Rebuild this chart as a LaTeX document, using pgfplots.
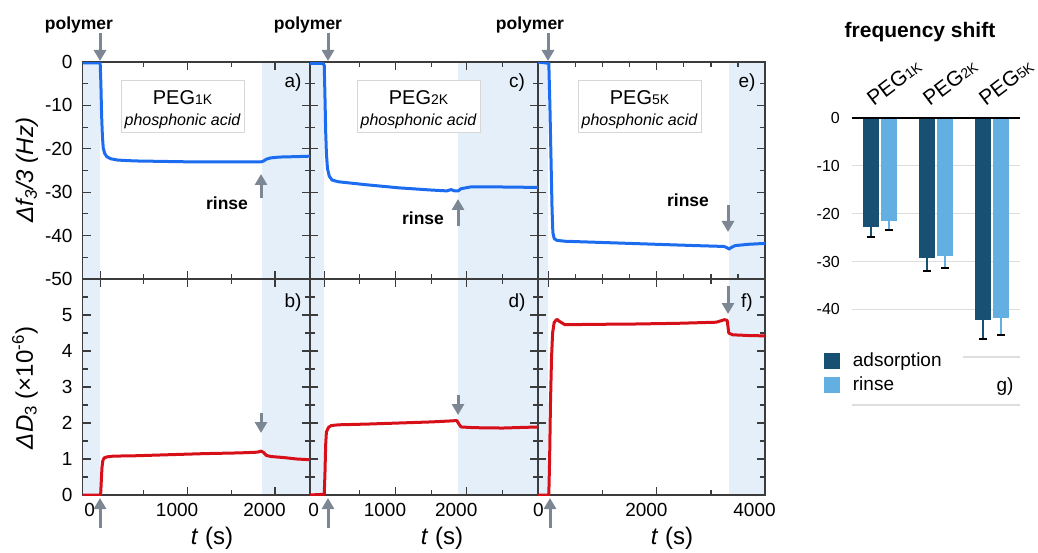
\documentclass[border=0pt]{standalone}
\usepackage{pgfplots}
\pgfplotsset{compat=1.18}
\usepackage{fontspec}
\setmainfont{Liberation Sans}
\usetikzlibrary{arrows.meta}

\definecolor{shadeblue}{RGB}{228,239,250}
\definecolor{fline}{RGB}{28,108,240}
\definecolor{dline}{RGB}{215,15,25}
\definecolor{arrowgray}{RGB}{125,135,148}
\definecolor{axisgray}{RGB}{60,60,60}
\definecolor{boxgray}{RGB}{215,215,215}
\definecolor{gridgray}{RGB}{222,222,222}
\definecolor{adsblue}{RGB}{24,80,115}
\definecolor{rinseblue}{RGB}{100,175,225}

\newcommand{\fs}[1]{\fontsize{#1}{#1}\selectfont}
\newcommand{\peg}[2]{PEG{\fs{#1}#2}}

\pgfplotsset{
  qcm/.style={
    scale only axis, set layers,
    xmin=-200,
    axis line style={axisgray, line width=1.2pt},
    every tick/.style={axisgray, line width=1.1pt},
    tick align=inside,
    major tick length=8pt, minor tick length=5pt,
    tick label style={font=\fs{19}},
    xticklabel style={anchor=north, inner sep=0pt, yshift=-8pt, xshift=-10.5pt},
    yticklabel style={anchor=east, inner sep=0pt, xshift=-10pt},
  },
  upper/.style={height=217pt, ymin=-50, ymax=0, ytick={-50,-40,...,0},
    minor ytick={-45,-35,...,-5}, xticklabels={,,,,}},
  lower/.style={height=216pt, ymin=0, ymax=6, ytick={0,1,...,5},
    minor ytick={0.5,1.5,...,5.5}},
  nolabel y/.style={yticklabels={,,,,,,}},
  shade/.style={fill=shadeblue, draw=none, on layer=axis background, forget plot},
  fcurve/.style={fline, line width=3pt, line join=round, mark=none},
  dcurve/.style={dline, line width=3pt, line join=round, mark=none},
}

\begin{document}
\begin{tikzpicture}

% ---------- PEG 1K ----------
\begin{axis}[qcm, upper, at={(82.7pt,-279pt)}, anchor=south west, width=227.3pt,
  xmax=2400, xtick={0,1000,2000}, minor xtick={500,1500},
  yticklabels={-50,-40,-30,-20,-10,0}]
\addplot[shade] coordinates {(-200,-50) (0,-50) (0,0) (-200,0)} --cycle;
\addplot[shade] coordinates {(1853,-50) (2400,-50) (2400,0) (1853,0)} --cycle;
\addplot[fcurve] coordinates {
(-200,-0.2) (0,-0.2) (8,-5) (16,-12) (25,-17) (35,-19.8) (50,-21.0) (75,-21.8)
(120,-22.3) (200,-22.6) (400,-22.8) (700,-22.9) (1000,-23.0) (1400,-23.0)
(1700,-23.0) (1840,-23.0) (1870,-22.8) (1900,-22.4) (1950,-22.1) (2050,-21.9)
(2250,-21.8) (2400,-21.7)};
\end{axis}

\begin{axis}[qcm, lower, at={(82.7pt,-495pt)}, anchor=south west, width=227.3pt,
  xmax=2400, xtick={0,1000,2000}, minor xtick={500,1500},
  xticklabels={0,1000,2000}, yticklabels={0,1,2,3,4,5}]
\addplot[shade] coordinates {(-200,0) (0,0) (0,6) (-200,6)} --cycle;
\addplot[shade] coordinates {(1853,0) (2400,0) (2400,6) (1853,6)} --cycle;
\addplot[dcurve] coordinates {
(-200,0) (5,0) (12,0.35) (20,0.75) (30,0.95) (45,1.03) (80,1.06) (150,1.08)
(400,1.09) (800,1.12) (1200,1.15) (1600,1.17) (1800,1.19) (1840,1.22)
(1870,1.18) (1900,1.10) (1950,1.07) (2100,1.04) (2250,1.00) (2400,0.98)};
\end{axis}

% ---------- PEG 2K ----------
\begin{axis}[qcm, upper, nolabel y, at={(310pt,-279pt)}, anchor=south west, width=228pt,
  xmax=3000, xtick={0,1000,2000}, minor xtick={500,1500,2500}]
\addplot[shade] coordinates {(-200,-50) (0,-50) (0,0) (-200,0)} --cycle;
\addplot[shade] coordinates {(1877,-50) (3000,-50) (3000,0) (1877,0)} --cycle;
\addplot[fcurve] coordinates {
(-200,-0.3) (-20,-0.3) (0,-0.8) (10,-8) (20,-16) (30,-21) (45,-24.5) (70,-26.3)
(110,-27.2) (200,-27.6) (600,-28.3) (1050,-29.0) (1500,-29.5) (1720,-29.7)
(1780,-29.4) (1830,-29.7) (1880,-29.7) (1920,-29.2) (2050,-28.8) (2500,-28.8)
(3000,-28.9)};
\end{axis}

\begin{axis}[qcm, lower, nolabel y, at={(310pt,-495pt)}, anchor=south west, width=228pt,
  xmax=3000, xtick={0,1000,2000}, minor xtick={500,1500,2500},
  xticklabels={0,1000,2000}]
\addplot[shade] coordinates {(-200,0) (0,0) (0,6) (-200,6)} --cycle;
\addplot[shade] coordinates {(1877,0) (3000,0) (3000,6) (1877,6)} --cycle;
\addplot[dcurve] coordinates {
(-200,0) (0,0.02) (10,0.6) (20,1.4) (30,1.75) (60,1.88) (100,1.93) (200,1.95)
(600,1.97) (1050,2.00) (1500,2.03) (1800,2.06) (1860,2.07) (1890,1.97)
(1920,1.89) (2100,1.87) (2500,1.86) (3000,1.89)};
\end{axis}

% ---------- PEG 5K ----------
\begin{axis}[qcm, upper, nolabel y, at={(538pt,-279pt)}, anchor=south west, width=227pt,
  xmax=4000, xtick={0,2000,4000}, minor xtick={500,1000,1500,2500,3000,3500}]
\addplot[shade] coordinates {(-200,-50) (-20,-50) (-20,0) (-200,0)} --cycle;
\addplot[shade] coordinates {(3330,-50) (4000,-50) (4000,0) (3330,0)} --cycle;
\addplot[fcurve] coordinates {
(-200,0) (0,-0.3) (20,-10) (40,-22) (60,-34) (75,-39.3) (100,-40.7) (150,-41.1)
(300,-41.3) (1500,-41.8) (2700,-42.3) (3240,-42.5) (3300,-42.8) (3335,-43.1)
(3380,-42.7) (3450,-42.3) (3700,-42.0) (4000,-41.8)};
\end{axis}

\begin{axis}[qcm, lower, nolabel y, at={(538pt,-495pt)}, anchor=south west, width=227pt,
  xmax=4000, xtick={0,2000,4000}, minor xtick={1000,3000},
  xticklabels={0,2000,4000}]
\addplot[shade] coordinates {(-200,0) (-20,0) (-20,6) (-200,6)} --cycle;
\addplot[shade] coordinates {(3330,0) (4000,0) (4000,6) (3330,6)} --cycle;
\addplot[dcurve] coordinates {
(-200,0) (0,0) (15,1.0) (30,2.5) (50,3.8) (70,4.5) (100,4.80) (150,4.88)
(200,4.82) (300,4.73) (800,4.74) (1600,4.75) (2400,4.77) (3100,4.80)
(3250,4.87) (3300,4.85) (3330,4.50) (3400,4.45) (3700,4.43) (4000,4.42)};
\end{axis}

% ---------- frequency shift bars ----------
\begin{axis}[
  at={(852pt,-405pt)}, anchor=south west,
  scale only axis, width=168pt, height=287pt,
  ybar=3pt, bar width=15pt,
  xmin=-0.5, xmax=2.5, ymin=-60, ymax=0,
  axis line style={draw=none},
  major tick length=0pt,
  xtick={0,1,2},
  xticklabels={\peg{14}{1K},\peg{14}{2K},\peg{14}{5K}},
  xticklabel pos=upper,
  xticklabel style={font=\fs{21}, inner sep=0pt, xshift=-6pt, yshift=11pt,
    rotate=37, anchor=south west},
  ytick={-60,-40,-30,-20,-10,0},
  yticklabels={,-40,-30,-20,-10,0},
  yticklabel style={font=\fs{16}, anchor=east, inner sep=0pt, xshift=-12pt},
  ymajorgrids, grid style={gridgray, line width=1.3pt},
  error bars/y dir=minus, error bars/y explicit,
  error bars/error bar style={line width=2pt},
  error bars/error mark options={rotate=90, mark size=4pt, line width=2pt},
  legend style={draw=none, fill=none, at={(axis description cs:-0.165,0.19)},
    anchor=north west, font=\fs{19}, inner sep=0pt, row sep=5pt,
    /tikz/every odd column/.append style={column sep=11pt}},
  legend cell align=left,
  every axis plot post/.append style={legend image code/.code={
    \fill[##1] (0pt,-7.5pt) rectangle (15pt,7.5pt);}},
]
\addplot[fill=adsblue, draw=adsblue] coordinates {
(0,-22.6) -= (0,2.2) (1,-29.2) -= (0,2.8) (2,-42.1) -= (0,4.0)};
\addlegendentry{adsorption}
\addplot[fill=rinseblue, draw=rinseblue] coordinates {
(0,-21.3) -= (0,2.2) (1,-28.75) -= (0,2.55) (2,-41.6) -= (0,3.8)};
\addlegendentry{rinse}
\draw[black, line width=1.3pt] (axis cs:-0.5,0) -- (axis cs:2.5,0);
\end{axis}

% ---------- annotations (pixel coordinates, y downwards) ----------
\begin{scope}[x=1pt, y=-1pt]
\draw[gridgray, line width=1.3pt] (963,357) -- (1020,357);
\tikzset{garrow/.style={arrowgray, line width=3pt, -{Triangle[width=12pt,length=11pt]}}}
\foreach \xa in {100,328,548} {\draw[garrow] (\xa,33) -- (\xa,61);}
\foreach \xa in {100,328,550} {\draw[garrow] (\xa,528) -- (\xa,498);}
\draw[garrow] (261,198) -- (261,174);
\draw[garrow] (458,226) -- (458,199);
\draw[garrow] (728,205) -- (728,232);
\draw[garrow] (261,413) -- (261,433);
\draw[garrow] (458,395) -- (458,415);
\draw[garrow] (728,286) -- (728,314);

\node[font=\fs{17.5}\bfseries] at (79,25) {polymer};
\node[font=\fs{17.5}\bfseries] at (308,25) {polymer};
\node[font=\fs{17.5}\bfseries] at (530,25) {polymer};
\node[font=\fs{17.5}\bfseries] at (227,203) {rinse};
\node[font=\fs{17.5}\bfseries] at (423,218) {rinse};
\node[font=\fs{17.5}\bfseries] at (688,200) {rinse};

\node[font=\fs{19}] at (293,83) {a)};
\node[font=\fs{19}] at (293,303) {b)};
\node[font=\fs{19}] at (517,83) {c)};
\node[font=\fs{19}] at (517,303) {d)};
\node[font=\fs{19}] at (747,83) {e)};
\node[font=\fs{19}] at (747,303) {f)};

\draw[boxgray, line width=1pt, fill=white] (121,81) rectangle (244,133);
\node[font=\fs{20}] at (182.5,98) {\peg{14}{1K}};
\node[font=\fs{16}\itshape] at (182.5,121) {phosphonic acid};
\draw[boxgray, line width=1pt, fill=white] (357,81) rectangle (480,133);
\node[font=\fs{20}] at (418.5,98) {\peg{14}{2K}};
\node[font=\fs{16}\itshape] at (418.5,121) {phosphonic acid};
\draw[boxgray, line width=1pt, fill=white] (578,81) rectangle (701,133);
\node[font=\fs{20}] at (639.5,98) {\peg{14}{5K}};
\node[font=\fs{16}\itshape] at (639.5,121) {phosphonic acid};

\node[rotate=90, font=\fs{24}] at (27,170) {\textit{Δf\textsubscript{3}/3 (Hz)}};
\node[rotate=90, font=\fs{24}] at (25,388) {\textit{ΔD}\textsubscript{3} (×10\textsuperscript{-6})};
\node[font=\fs{24}] at (212,538) {\textit{t} (s)};
\node[font=\fs{24}] at (442,538) {\textit{t} (s)};
\node[font=\fs{24}] at (672,538) {\textit{t} (s)};

\node[font=\fs{21}\bfseries] at (920,32) {frequency shift};
\node[font=\fs{19}] at (1005,387) {g)};
\path (0,0) rectangle (1038,553);
\end{scope}
\end{tikzpicture}
\end{document}
